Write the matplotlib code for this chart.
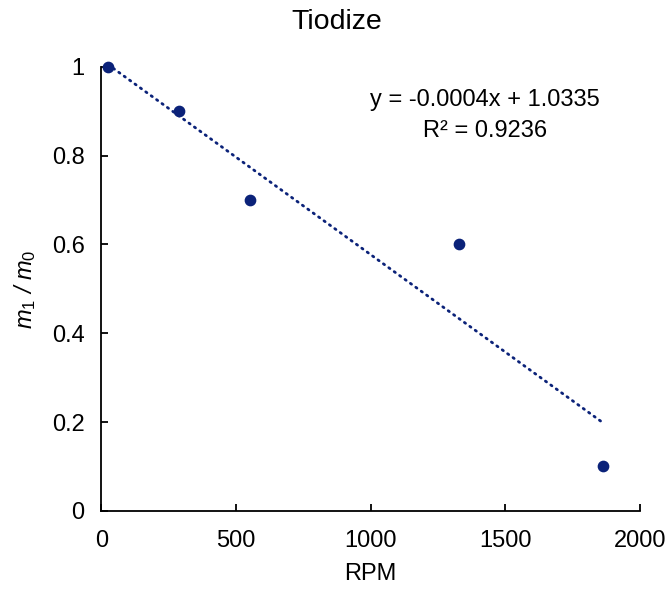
import numpy as np
import matplotlib.pyplot as plt

plt.rcParams['font.family'] = ['Liberation Sans', 'DejaVu Sans']
plt.rcParams['mathtext.fontset'] = 'custom'
plt.rcParams['mathtext.rm'] = 'Liberation Sans'
plt.rcParams['mathtext.it'] = 'Liberation Sans:italic'

# data
rpm = [25, 290, 553, 1327, 1863]
ratio = [1.0, 0.9, 0.7, 0.6, 0.1]
xticks = [0, 500, 1000, 1500, 2000]
yticks = [0, 0.2, 0.4, 0.6, 0.8, 1]
ytick_labels = ['0', '0.2', '0.4', '0.6', '0.8', '1']

navy = '#0b2279'

fig = plt.figure(figsize=(6.66, 5.92), dpi=100)
ax = fig.add_axes([0.152, 0.137, 0.809, 0.75])

# linear trendline
k, b = np.polyfit(rpm, ratio, 1)
xs = np.array([min(rpm), max(rpm)])
ax.plot(xs, k * xs + b, color=navy, linewidth=2.0,
        linestyle=(0, (0.5, 1.9)), dash_capstyle='round', clip_on=False)

ax.scatter(rpm, ratio, s=55, color=navy, zorder=3, clip_on=False)

ax.set_xlim(0, 2000)
ax.set_ylim(0, 1)
ax.set_xticks(xticks)
ax.set_yticks(yticks)
ax.set_yticklabels(ytick_labels)
ax.tick_params(direction='in', length=5, width=1.3, labelsize=17, colors='black')
ax.tick_params(axis='x', pad=14)
ax.tick_params(axis='y', pad=12)
for s in ['top', 'right']:
    ax.spines[s].set_visible(False)
for s in ['left', 'bottom']:
    ax.spines[s].set_linewidth(1.3)

fig.text(0.505, 0.951, 'Tiodize', fontsize=20.5, ha='center', va='baseline')
fig.text(0.556, 0.02, 'RPM', fontsize=17, ha='center', va='baseline')
fig.text(0.038, 0.512, r'$m_1$ / $m_0$', fontsize=17, fontstyle='italic',
         rotation=90, ha='center', va='center')

ax.text(0.712, 0.926, 'y = -0.0004x + 1.0335', transform=ax.transAxes,
        ha='center', va='center', fontsize=17)
ax.text(0.712, 0.856, 'R² = 0.9236', transform=ax.transAxes,
        ha='center', va='center', fontsize=17)

fig.savefig('out.png', dpi=100)
